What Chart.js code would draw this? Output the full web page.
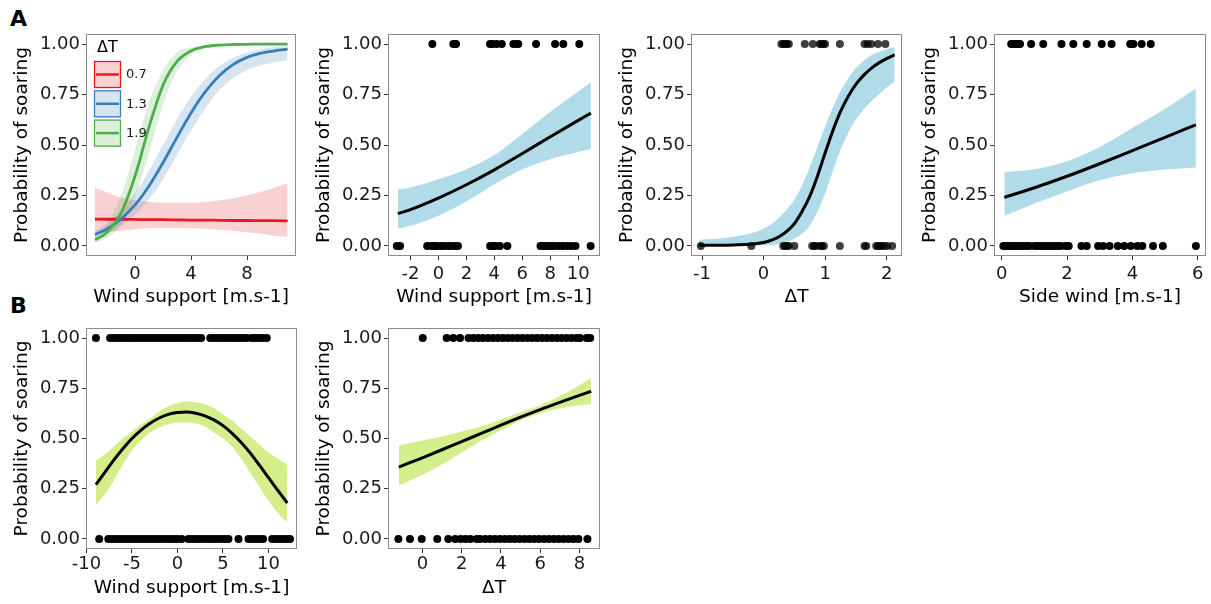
<!DOCTYPE html>
<html>
<head>
<meta charset="utf-8">
<script src="https://cdn.jsdelivr.net/npm/chart.js@4.4.0/dist/chart.umd.min.js"></script>
<style>
html, body { margin: 0; padding: 0; background: #fff; overflow: hidden; width: 1211px; height: 604px; }
canvas { position: absolute; }
.tag { position: absolute; font: bold 22px "DejaVu Sans", sans-serif; color: #000; line-height: 1; }
</style>
</head>
<body>
<div class="tag" style="left:10px;top:8px">A</div>
<div class="tag" style="left:10px;top:295px">B</div>
<canvas id="a1"></canvas>
<canvas id="a2"></canvas>
<canvas id="a3"></canvas>
<canvas id="a4"></canvas>
<canvas id="b1"></canvas>
<canvas id="b2"></canvas>
<script>
// ---- data ----
// A1: fitted curves per ΔT level
const dtLevels = ['0.7', '1.3', '1.9'];
const a1X = [-2.86, -2, -1, 0, 1, 2, 3, 4, 5, 6, 7, 8, 9, 10, 10.9];
const a1Red = [0.133, 0.132, 0.132, 0.131, 0.130, 0.130, 0.129, 0.128, 0.128, 0.127, 0.126, 0.126, 0.125, 0.125, 0.124];
const a1RedHi = [0.29, 0.265, 0.24, 0.225, 0.218, 0.215, 0.214, 0.215, 0.218, 0.225, 0.235, 0.25, 0.268, 0.29, 0.31];
const a1RedLo = [0.06, 0.068, 0.076, 0.083, 0.087, 0.089, 0.089, 0.088, 0.085, 0.08, 0.075, 0.068, 0.06, 0.05, 0.045];
const a1Blue = [0.056, 0.084, 0.133, 0.203, 0.297, 0.412, 0.538, 0.659, 0.762, 0.842, 0.898, 0.934, 0.955, 0.967, 0.975];
const a1BlueHi = [0.074, 0.111, 0.174, 0.261, 0.373, 0.5, 0.627, 0.739, 0.826, 0.889, 0.931, 0.958, 0.974, 0.985, 0.99];
const a1BlueLo = [0.04, 0.062, 0.1, 0.155, 0.23, 0.33, 0.45, 0.57, 0.68, 0.77, 0.83, 0.87, 0.895, 0.91, 0.92];
const a1Green = [0.03, 0.067, 0.162, 0.345, 0.589, 0.796, 0.914, 0.966, 0.987, 0.995, 0.998, 0.999, 1, 1, 1];
const a1GreenHi = [0.049, 0.109, 0.25, 0.475, 0.711, 0.87, 0.957, 0.984, 0.994, 0.998, 0.999, 1, 1, 1, 1];
const a1GreenLo = [0.018, 0.041, 0.104, 0.24, 0.46, 0.70, 0.864, 0.945, 0.979, 0.992, 0.997, 0.999, 1, 1, 1];

// A2: wind support
const a2X = [-2.9, -2, 0, 2, 4, 6, 8, 10, 10.9];
const a2Fit = [0.16, 0.18, 0.237, 0.303, 0.377, 0.458, 0.541, 0.622, 0.658];
const a2Hi = [0.28, 0.29, 0.33, 0.38, 0.45, 0.555, 0.665, 0.765, 0.81];
const a2Lo = [0.085, 0.10, 0.15, 0.22, 0.305, 0.38, 0.43, 0.465, 0.48];
const a2Soar = [-0.43, 1.07, 1.26, 3.69, 3.88, 4.17, 4.53, 5.36, 5.6, 5.71, 6.98, 8.34, 8.93, 10.07];
const a2Flap = [-2.97, -2.74, -0.8, -0.5, -0.3, -0.1, 0.2, 0.4, 0.7, 0.9, 1.2, 1.4, 3.7, 3.9, 4.1, 4.4, 4.93,
  7.3, 7.5, 7.7, 7.9, 8.1, 8.3, 8.6, 8.9, 9.2, 9.5, 9.8, 10.88];

// A3: ΔT
const a3X = [-1.05, -0.5, 0, 0.25, 0.5, 0.625, 0.75, 0.875, 1.0, 1.125, 1.25, 1.375, 1.5, 1.625, 1.75, 1.875, 2.0, 2.13];
const a3Fit = [0.003, 0.005, 0.017, 0.045, 0.11, 0.17, 0.245, 0.345, 0.46, 0.57, 0.665, 0.74, 0.80, 0.845, 0.88,
  0.907, 0.928, 0.946];
const a3Hi = [0.03, 0.045, 0.085, 0.14, 0.23, 0.30, 0.39, 0.49, 0.59, 0.685, 0.765, 0.83, 0.88, 0.918, 0.945,
  0.962, 0.975, 0.985];
const a3Lo = [0.0, 0.0, 0.003, 0.01, 0.035, 0.06, 0.10, 0.17, 0.26, 0.37, 0.475, 0.56, 0.625, 0.675, 0.715,
  0.75, 0.785, 0.815];
const a3Soar = [0.29, 0.32, 0.35, 0.38, 0.41, 0.67, 0.80, 0.91, 0.94, 0.97, 1.0, 1.24, 1.64, 1.69, 1.75, 1.86, 1.98];
const a3Flap = [-1.02, -0.2, 0.32, 0.35, 0.38, 0.41, 0.5, 0.79, 0.82, 0.85, 0.92, 0.95, 0.98, 1.24, 1.64, 1.67,
  1.83, 1.86, 1.89, 1.92, 1.96, 2.01, 2.09];

// A4: side wind
const a4X = [0.08, 1, 2, 3, 4, 5, 5.94];
const a4Fit = [0.24, 0.288, 0.345, 0.407, 0.472, 0.538, 0.60];
const a4Hi = [0.365, 0.38, 0.42, 0.49, 0.585, 0.68, 0.78];
const a4Lo = [0.148, 0.21, 0.27, 0.325, 0.36, 0.378, 0.388];
const a4Soar = [0.29, 0.34, 0.39, 0.44, 0.5, 0.56, 0.9, 1.27, 1.83, 2.19, 2.6, 3.06, 3.36, 3.93, 3.98, 4.03, 4.28, 4.56];
const a4Flap = [0.05, 0.12, 0.2, 0.28, 0.35, 0.42, 0.5, 0.58, 0.65, 0.75, 0.85, 1.0, 1.1, 1.2, 1.3, 1.4, 1.5, 1.6,
  1.7, 1.8, 1.95, 2.05, 2.44, 2.6, 2.95, 3.1, 3.3, 3.55, 3.75, 3.95, 4.15, 4.3, 4.63, 4.93, 5.94];

// B1: wind support (quadratic)
const b1X = [-8.96, -8, -7, -6, -5, -4, -3, -2, -1, 0, 1, 2, 3, 4, 5, 6, 7, 8, 9, 10, 11, 12.07];
const b1Fit = [0.27, 0.33, 0.392, 0.449, 0.50, 0.542, 0.576, 0.602, 0.62, 0.629, 0.632, 0.626, 0.613, 0.593,
  0.564, 0.526, 0.48, 0.427, 0.367, 0.305, 0.243, 0.179];
const b1Hi = [0.39, 0.42, 0.46, 0.50, 0.535, 0.57, 0.60, 0.635, 0.66, 0.675, 0.685, 0.68, 0.67, 0.65, 0.62, 0.59,
  0.55, 0.51, 0.47, 0.43, 0.40, 0.37];
const b1Lo = [0.17, 0.22, 0.29, 0.37, 0.44, 0.49, 0.53, 0.555, 0.57, 0.58, 0.58, 0.575, 0.56, 0.53, 0.50, 0.46,
  0.40, 0.33, 0.26, 0.19, 0.13, 0.08];
const b1Soar = [-8.96, -7.4, -7.0, -6.6, -6.2, -5.8, -5.4, -5.0, -4.6, -4.2, -3.8, -3.4, -3.0, -2.6, -2.2, -1.8,
  -1.4, -1.0, -0.6, -0.2, 0.2, 0.6, 1.0, 1.4, 1.8, 2.2, 2.6, 3.6, 4.0, 4.4, 4.8, 5.2, 5.6, 6.0, 6.4, 6.8, 7.2,
  7.6, 8.15, 8.55, 8.95, 9.35, 9.8];
const b1Flap = [-8.6, -7.6, -7.2, -6.8, -6.4, -6.0, -5.6, -5.2, -4.8, -4.4, -4.0, -3.6, -3.2, -2.8, -2.4, -2.0,
  -1.6, -1.2, -0.8, -0.4, 0.0, 0.46, 1.2, 1.6, 2.0, 2.4, 2.8, 3.2, 3.6, 4.0, 4.4, 4.8, 5.2, 5.6, 6.7, 7.8, 8.2,
  8.6, 9.0, 9.4, 10.4, 10.8, 11.2, 11.6, 12.0, 12.36];

// B2: ΔT
const b2X = [-1.2, 0, 1, 2, 3, 4, 5, 6, 7, 8, 8.6];
const b2Fit = [0.358, 0.404, 0.444, 0.485, 0.525, 0.566, 0.606, 0.644, 0.68, 0.715, 0.735];
const b2Hi = [0.465, 0.49, 0.51, 0.535, 0.56, 0.595, 0.63, 0.665, 0.71, 0.765, 0.80];
const b2Lo = [0.265, 0.32, 0.37, 0.43, 0.49, 0.54, 0.59, 0.625, 0.65, 0.665, 0.67];
const b2Soar = [0.02, 1.24, 1.58, 1.92, 2.35, 2.6, 2.85, 3.1, 3.35, 3.6, 3.85, 4.1, 4.35, 4.6, 4.85, 5.1, 5.35,
  5.6, 5.85, 6.1, 6.35, 6.6, 6.85, 7.1, 7.35, 7.6, 7.85, 8.03, 8.37, 8.55];
const b2Flap = [-1.22, -0.63, -0.03, 0.76, 1.32, 1.67, 1.95, 2.2, 2.45, 2.77, 2.94, 3.2, 3.45, 3.7, 3.95, 4.2,
  4.45, 4.7, 4.95, 5.2, 5.45, 5.7, 5.95, 6.2, 6.45, 6.7, 6.95, 7.2, 7.45, 7.7, 7.95, 8.41];

const yTicks = [0, 0.25, 0.5, 0.75, 1];

// ---- styling ----
Chart.defaults.font.family = '"DejaVu Sans", sans-serif';
const FRAME = '#8c8c8c';
const BLUE_BAND = '#b0dcea';
const LIME_BAND = '#d5ee8c';
const AXW = 86, AXH = 60, PT = 14;

function pts(xs, ys) { return xs.map((x, i) => ({ x: x, y: ys[i] })); }
function row(xs, y) { return xs.map(x => ({ x: x, y: y })); }

function band(xs, hi, lo, color) {
  return [
    { data: pts(xs, hi), borderWidth: 0, pointRadius: 0, fill: '+1', backgroundColor: color,
      cubicInterpolationMode: 'monotone', order: 3 },
    { data: pts(xs, lo), borderWidth: 0, pointRadius: 0, fill: false,
      cubicInterpolationMode: 'monotone', order: 3 }
  ];
}
function curve(xs, ys, color, w, label) {
  return { label: label, data: pts(xs, ys), borderColor: color, borderWidth: w, pointRadius: 0, fill: false,
    cubicInterpolationMode: 'monotone', order: 1 };
}
function dots(xs, y, color) {
  return { data: row(xs, y), showLine: false, pointRadius: 4, pointBackgroundColor: color,
    pointBorderWidth: 0, order: 0 };
}

const frame = {
  id: 'frame',
  afterDatasetsDraw(chart) {
    const a = chart.chartArea, c = chart.ctx;
    c.save();
    c.strokeStyle = FRAME;
    c.lineWidth = 1;
    c.strokeRect(Math.round(a.left) + 0.5, Math.round(a.top) + 0.5, Math.round(a.width) - 1, Math.round(a.height) - 1);
    c.restore();
  }
};

// legend drawn inside panel A1
const dtColors = ['#e41a1c', '#377eb8', '#4daf4a'];
const dtLegend = {
  id: 'dtLegend',
  afterDraw(chart) {
    const a = chart.chartArea, c = chart.ctx;
    const x0 = a.left + 8, y0 = a.top + 27;
    c.save();
    c.fillStyle = '#000';
    c.font = '16px "DejaVu Sans", sans-serif';
    c.textBaseline = 'middle';
    c.fillText('\u0394T', a.left + 11, a.top + 14);
    dtLevels.forEach((lab, i) => {
      const y = y0 + i * 29.3;
      c.globalAlpha = 0.2;
      c.fillStyle = dtColors[i];
      c.fillRect(x0, y, 27, 27);
      c.globalAlpha = 1;
      c.strokeStyle = dtColors[i];
      c.lineWidth = 1.3;
      c.strokeRect(x0 + 0.5, y + 0.5, 26, 26);
      c.lineWidth = 2.5;
      c.beginPath();
      c.moveTo(x0 + 2, y + 13.5);
      c.lineTo(x0 + 25, y + 13.5);
      c.stroke();
      c.fillStyle = '#1a1a1a';
      c.font = '13px "DejaVu Sans", sans-serif';
      c.fillText(lab, x0 + 32, y + 14);
    });
    c.restore();
  }
};

function makePanel(id, cfg) {
  const [L, T, R, B] = cfg.box;
  const pr = cfg.padRight === undefined ? 20 : cfg.padRight;
  const cv = document.getElementById(id);
  cv.width = AXW + (R - L) + pr;
  cv.height = PT + (B - T) + AXH;
  cv.style.left = (L - AXW) + 'px';
  cv.style.top = (T - PT) + 'px';
  return new Chart(cv, {
    type: 'line',
    data: { datasets: cfg.datasets },
    options: {
      responsive: false,
      animation: false,
      events: [],
      layout: { padding: { left: 0, top: PT, right: pr, bottom: 0 } },
      plugins: { legend: { display: false }, tooltip: { enabled: false } },
      scales: {
        x: {
          type: 'linear', min: cfg.xMin, max: cfg.xMax,
          afterFit: s => { s.height = AXH; },
          afterBuildTicks: s => { s.ticks = cfg.xTicks.map(v => ({ value: v })); },
          grid: { drawOnChartArea: false, drawTicks: true, tickLength: 4, color: '#333' },
          border: { display: false },
          ticks: { color: '#1a1a1a', font: { size: 18 }, padding: cfg.tickPad, maxRotation: 0, autoSkip: false,
            callback: v => String(v) },
          title: { display: true, text: cfg.xTitle, color: '#000', font: { size: 18.5 },
            padding: { top: 0, bottom: cfg.titlePad } }
        },
        y: {
          min: -0.05, max: 1.05,
          afterFit: s => { s.width = AXW; },
          afterBuildTicks: s => { s.ticks = yTicks.map(v => ({ value: v })); },
          grid: { drawOnChartArea: false, drawTicks: true, tickLength: 4, color: '#333' },
          border: { display: false },
          ticks: { color: '#1a1a1a', font: { size: 18 }, padding: 2, callback: v => v.toFixed(2) },
          title: { display: true, text: 'Probability of soaring', color: '#000', font: { size: 18.5 },
            padding: { top: 11, bottom: 0 } }
        }
      }
    },
    plugins: cfg.legend ? [frame, dtLegend] : [frame]
  });
}

makePanel('a1', {
  box: [86, 34, 296, 256], xMin: -3.5, xMax: 11.5, xTicks: [0, 4, 8],
  xTitle: 'Wind support [m.s-1]', tickPad: 4, titlePad: 8, legend: true,
  datasets: [
    curve(a1X, a1Green, dtColors[2], 2.8, dtLevels[2]),
    curve(a1X, a1Blue, dtColors[1], 2.8, dtLevels[1]),
    curve(a1X, a1Red, dtColors[0], 2.8, dtLevels[0]),
    ...band(a1X, a1GreenHi, a1GreenLo, 'rgba(77,175,74,0.2)'),
    ...band(a1X, a1BlueHi, a1BlueLo, 'rgba(55,126,184,0.2)'),
    ...band(a1X, a1RedHi, a1RedLo, 'rgba(228,26,28,0.2)')
  ]
});

makePanel('a2', {
  box: [388, 34, 600, 256], xMin: -3.6, xMax: 11.55, xTicks: [-2, 0, 2, 4, 6, 8, 10],
  xTitle: 'Wind support [m.s-1]', tickPad: 4, titlePad: 8,
  datasets: [
    dots(a2Soar, 1, '#000'), dots(a2Flap, 0, '#000'),
    curve(a2X, a2Fit, '#000', 3),
    ...band(a2X, a2Hi, a2Lo, BLUE_BAND)
  ]
});

makePanel('a3', {
  box: [691, 34, 902, 256], xMin: -1.18, xMax: 2.25, xTicks: [-1, 0, 1, 2],
  xTitle: '\u0394T', tickPad: 4, titlePad: 8,
  datasets: [
    dots(a3Soar, 1, 'rgba(0,0,0,0.75)'), dots(a3Flap, 0, 'rgba(0,0,0,0.75)'),
    curve(a3X, a3Fit, '#000', 3),
    ...band(a3X, a3Hi, a3Lo, BLUE_BAND)
  ]
});

makePanel('a4', {
  box: [994, 34, 1206, 256], xMin: -0.236, xMax: 6.25, xTicks: [0, 2, 4, 6], padRight: 5,
  xTitle: 'Side wind [m.s-1]', tickPad: 4, titlePad: 8,
  datasets: [
    dots(a4Soar, 1, '#000'), dots(a4Flap, 0, '#000'),
    curve(a4X, a4Fit, '#000', 3),
    ...band(a4X, a4Hi, a4Lo, BLUE_BAND)
  ]
});

makePanel('b1', {
  box: [86, 328, 297, 549], xMin: -10.05, xMax: 13.13, xTicks: [-10, -5, 0, 5, 10],
  xTitle: 'Wind support [m.s-1]', tickPad: 1, titlePad: 10,
  datasets: [
    dots(b1Soar, 1, '#000'), dots(b1Flap, 0, '#000'),
    curve(b1X, b1Fit, '#000', 3),
    ...band(b1X, b1Hi, b1Lo, LIME_BAND)
  ]
});

makePanel('b2', {
  box: [388, 328, 600, 549], xMin: -1.75, xMax: 9.05, xTicks: [0, 2, 4, 6, 8],
  xTitle: '\u0394T', tickPad: 1, titlePad: 10,
  datasets: [
    dots(b2Soar, 1, '#000'), dots(b2Flap, 0, '#000'),
    curve(b2X, b2Fit, '#000', 3),
    ...band(b2X, b2Hi, b2Lo, LIME_BAND)
  ]
});
</script>
</body>
</html>
